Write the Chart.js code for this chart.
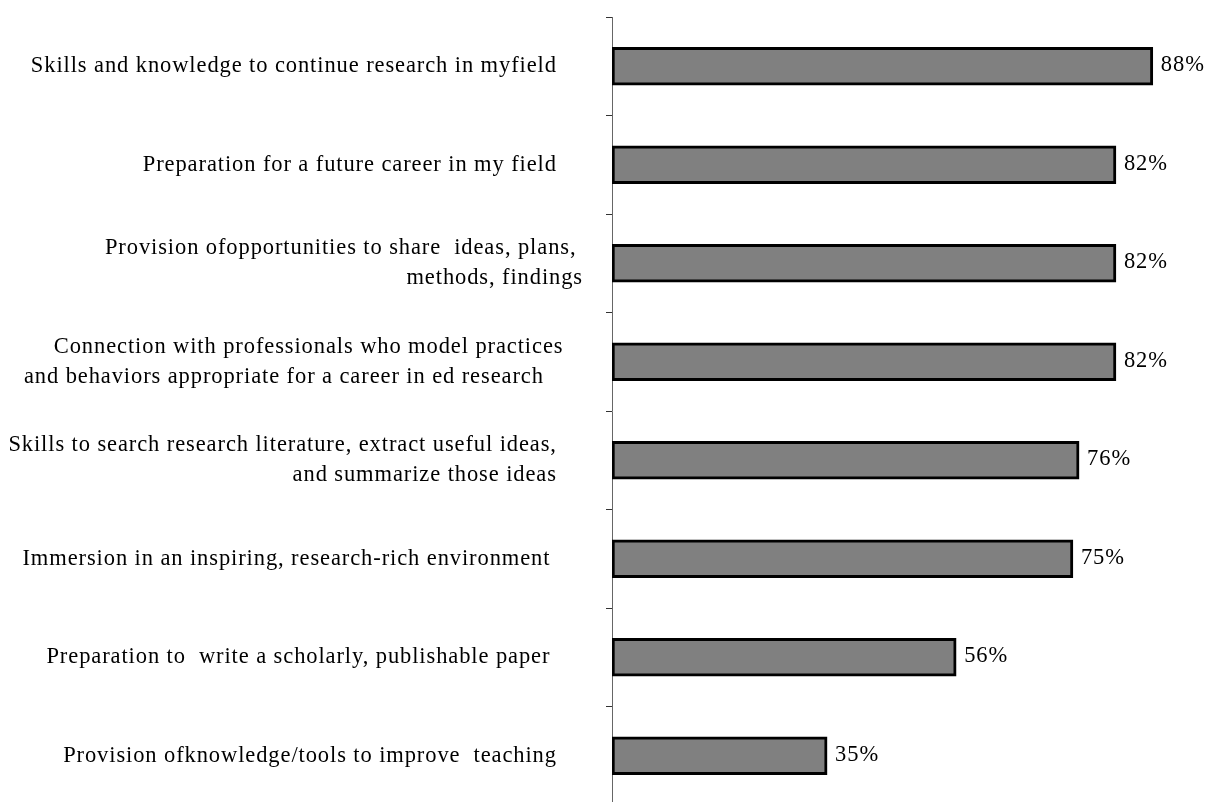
<!DOCTYPE html>
<html>
<head>
<meta charset="utf-8">
<script src="https://cdn.jsdelivr.net/npm/chart.js@4/dist/chart.umd.min.js"></script>
<style>
  html, body { margin: 0; padding: 0; background: #fff; overflow: hidden; }
  #wrap { width: 1208px; height: 805px; }
</style>
</head>
<body>
<div id="wrap"><canvas id="c" width="1208" height="805"></canvas></div>
<script>
// Survey items (top to bottom); trailing spaces keep the original label layout
const categories = [
  'Skills and knowledge to continue research in myfield    ',
  'Preparation for a future career in my field    ',
  ['Provision ofopportunities to share  ideas, plans, ', 'methods, findings'],
  ['Connection with professionals who model practices   ', 'and behaviors appropriate for a career in ed research      '],
  ['Skills to search research literature, extract useful ideas,    ', 'and summarize those ideas    '],
  'Immersion in an inspiring, research-rich environment     ',
  'Preparation to  write a scholarly, publishable paper     ',
  'Provision ofknowledge/tools to improve  teaching    '
];

// Share of respondents (%)
const percentValues = [88, 82, 82, 82, 76, 75, 56, 35];

const serif = "'Liberation Serif', 'Times New Roman', serif";
const spacing = '0.9px';

// Slightly tracked serif text for all labels
const tracking = {
  id: 'tracking',
  beforeDraw(chart) { chart.ctx.letterSpacing = spacing; }
};

// Percentage label just past the end of each bar
const valueLabels = {
  id: 'valueLabels',
  afterDatasetsDraw(chart) {
    const ctx = chart.ctx;
    const meta = chart.getDatasetMeta(0);
    ctx.save();
    ctx.letterSpacing = spacing;
    ctx.font = '22.5px ' + serif;
    ctx.fillStyle = '#000';
    ctx.textAlign = 'left';
    ctx.textBaseline = 'middle';
    meta.data.forEach((bar, i) => {
      ctx.fillText(percentValues[i] + '%', bar.x + 8, bar.y - 1);
    });
    ctx.restore();
  }
};

new Chart(document.getElementById('c'), {
  type: 'bar',
  data: {
    labels: categories,
    datasets: [{
      data: percentValues,
      backgroundColor: '#808080',
      borderColor: '#000',
      borderWidth: 3,
      borderSkipped: false,
      barThickness: 38
    }]
  },
  options: {
    indexAxis: 'y',
    responsive: false,
    animation: false,
    devicePixelRatio: 1,
    layout: { padding: { top: 17, right: 6, bottom: 0, left: 0 } },
    plugins: { legend: { display: false }, tooltip: { enabled: false } },
    scales: {
      x: { display: false, min: 0, max: 96 },
      y: {
        afterFit(scale) {
          scale.width = 612;
          scale.paddingTop = 0;
          scale.paddingBottom = 0;
        },
        border: { display: true, color: '#666', width: 1 },
        grid: {
          display: true,
          offset: true,
          drawOnChartArea: false,
          drawTicks: true,
          tickLength: 6,
          tickColor: '#333'
        },
        ticks: {
          color: '#000',
          padding: 23,
          font: { family: serif, size: 22.5, lineHeight: 1.33 }
        }
      }
    }
  },
  plugins: [tracking, valueLabels]
});
</script>
</body>
</html>
